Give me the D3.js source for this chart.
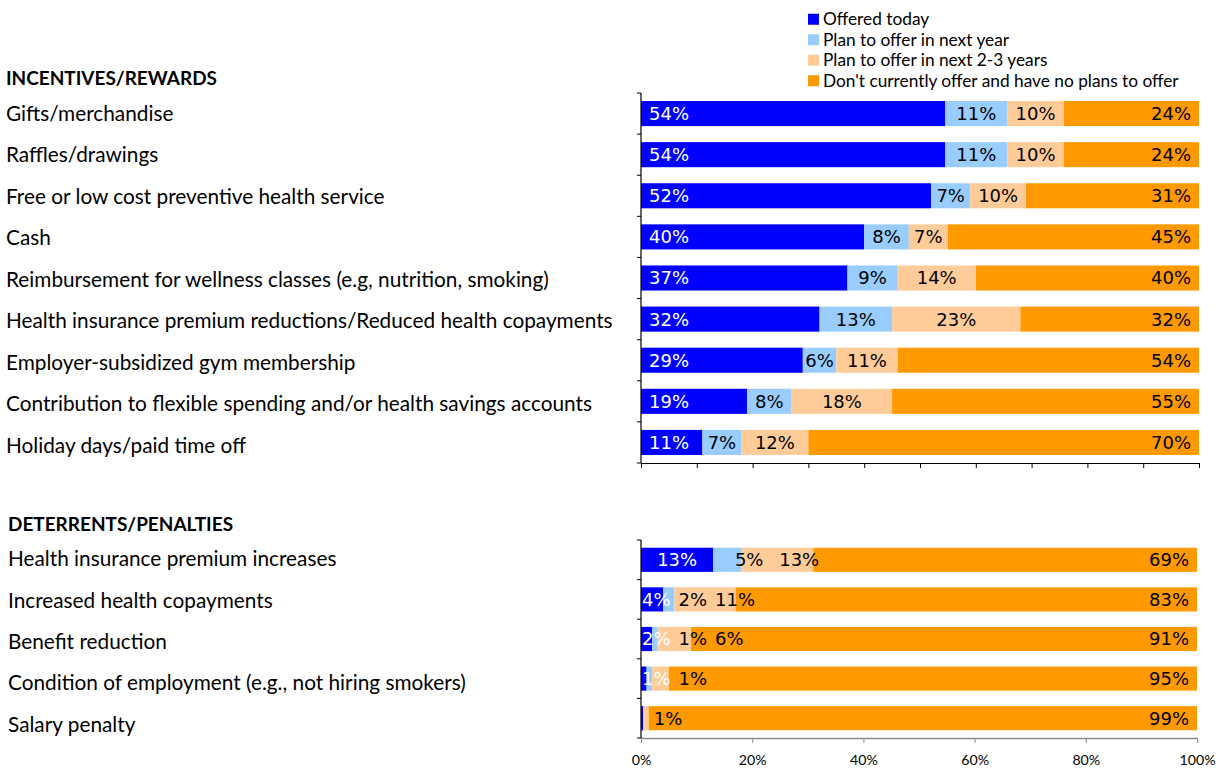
<!DOCTYPE html>
<html>
<head>
<meta charset="utf-8">
<script src="https://cdn.jsdelivr.net/npm/d3@7"></script>
<style>
  body { margin: 0; background: #fff; }
  svg { display: block; }
</style>
</head>
<body>
<svg id="chart" width="1223" height="769"></svg>
<script>
// ---- data -------------------------------------------------------------
const seriesNames = [
  "Offered today",
  "Plan to offer in next year",
  "Plan to offer in next 2-3 years",
  "Don't currently offer and have no plans to offer"
];

const incentiveCategories = [
  "Gifts/merchandise",
  "Raffles/drawings",
  "Free or low cost preventive health service",
  "Cash",
  "Reimbursement for wellness classes (e.g, nutrition, smoking)",
  "Health insurance premium reductions/Reduced health copayments",
  "Employer-subsidized gym membership",
  "Contribution to flexible spending and/or health savings accounts",
  "Holiday days/paid time off"
];
const incentiveOffered   = [54, 54, 52, 40, 37, 32, 29, 19, 11];
const incentiveNextYear  = [11, 11, 7, 8, 9, 13, 6, 8, 7];
const incentiveTwoThree  = [10, 10, 10, 7, 14, 23, 11, 18, 12];
const incentiveNoPlans   = [24, 24, 31, 45, 40, 32, 54, 55, 70];

const deterrentCategories = [
  "Health insurance premium increases",
  "Increased health copayments",
  "Benefit reduction",
  "Condition of employment (e.g., not hiring smokers)",
  "Salary penalty"
];
const deterrentOffered   = [13, 4, 2, 1, 0.4];
const deterrentNextYear  = [5, 2, 1, 1, 0];
const deterrentTwoThree  = [13, 11, 6, 3, 1];
const deterrentNoPlans   = [69, 83, 91, 95, 99];

const gridTicks = [0, 10, 20, 30, 40, 50, 60, 70, 80, 90, 100];
const axisTicks = [0, 20, 40, 60, 80, 100];

// segments printed without a value label: [category, series index]
const unlabeledSegments = [["Condition of employment (e.g., not hiring smokers)", 2]];

// ---- styling ----------------------------------------------------------
const colors = ["#0000FF", "#99CCFF", "#FFCC99", "#FF9900"];
const labelColors = ["#FFFFFF", "#000000", "#000000", "#000000"];
const catFont = "Lato, 'Open Sans', sans-serif";
const valueFont = "'DejaVu Sans', Verdana, sans-serif";

const svg = d3.select("#chart");

// fit a font size so that `text` spans `target` pixels
function fitSize(text, family, weight, target) {
  const probe = svg.append("text")
    .attr("font-family", family).attr("font-weight", weight)
    .attr("font-size", 100).text(text);
  const w = probe.node().getComputedTextLength();
  probe.remove();
  return 100 * target / w;
}

const catSize = fitSize(incentiveCategories[5], catFont, 400, 607);
const headSize = fitSize("INCENTIVES/REWARDS", catFont, 700, 211);
const legendSize = fitSize(seriesNames[3], catFont, 400, 356);
const tickSize = fitSize("100%", catFont, 400, 36);
const valueSize = fitSize("54%", valueFont, 400, 40);

// ---- legend -----------------------------------------------------------
const legendRow = d3.scaleBand().domain(seriesNames).range([9, 91]);
const legend = svg.append("g").attr("class", "legend");
legend.selectAll("rect").data(seriesNames).join("rect")
  .attr("x", 808)
  .attr("y", d => legendRow(d) + legendRow.bandwidth() / 2 - 5.5)
  .attr("width", 11).attr("height", 11)
  .attr("fill", (d, i) => colors[i]);
legend.selectAll("text").data(seriesNames).join("text")
  .attr("x", 823)
  .attr("y", d => legendRow(d) + legendRow.bandwidth() / 2)
  .attr("dy", "0.35em")
  .attr("font-family", catFont).attr("font-size", legendSize)
  .attr("fill", "#000")
  .text(d => d);

// ---- panel ------------------------------------------------------------
function drawPanel(opt) {
  const rows = opt.categories.map((c, i) => {
    const r = { category: c };
    opt.series.forEach((s, k) => { r[k] = s[i]; });
    return r;
  });
  const stack = d3.stack().keys([0, 1, 2, 3]).offset(d3.stackOffsetExpand)(rows);

  const x = d3.scaleLinear().domain([0, 100]).range(opt.xRange);
  const y = d3.scaleBand().domain(opt.categories).range(opt.yRange)
    .paddingInner(0.39).paddingOuter(0.195);
  // the text column runs on its own, slightly looser, row spacing
  const yText = d3.scaleBand().domain(opt.categories).range(opt.textRange);

  const g = svg.append("g");

  // heading + category names
  g.append("text")
    .attr("x", opt.labelX).attr("y", opt.headingY).attr("dy", "0.35em")
    .attr("font-family", catFont).attr("font-weight", 700)
    .attr("font-size", headSize).attr("fill", "#000")
    .text(opt.heading);
  g.selectAll("text.cat").data(opt.categories).join("text")
    .attr("class", "cat")
    .attr("x", opt.labelX)
    .attr("y", d => yText(d) + yText.bandwidth() / 2)
    .attr("dy", "0.35em")
    .attr("font-family", catFont).attr("font-size", catSize)
    .attr("fill", "#000")
    .text(d => d);

  // stacked bars
  g.selectAll("g.layer").data(stack).join("g")
    .attr("class", "layer")
    .attr("fill", (d, k) => colors[k])
    .selectAll("rect").data(d => d).join("rect")
      .attr("x", d => x(d[0] * 100))
      .attr("y", d => y(d.data.category))
      .attr("width", d => x(d[1] * 100) - x(d[0] * 100))
      .attr("height", y.bandwidth());

  // value labels
  const labelLayer = g.append("g");
  rows.forEach((row, i) => {
    let prevEnd = -Infinity;
    const cy = y(row.category) + y.bandwidth() / 2;
    for (let k = 0; k < 4; k++) {
      const v = row[k];
      const shown = Math.round(v);
      if (shown === 0) continue;
      if (unlabeledSegments.some(u => u[0] === row.category && u[1] === k)) continue;
      const seg = stack[k][i];
      const x0 = x(seg[0] * 100), x1 = x(seg[1] * 100);
      const t = labelLayer.append("text")
        .attr("y", cy).attr("dy", "0.36em")
        .attr("font-family", valueFont).attr("font-size", valueSize)
        .attr("fill", labelColors[k])
        .text(shown + "%");
      const w = t.node().getComputedTextLength();
      let left;
      if (k === 3) {
        left = x1 - 8 - w;
      } else if (k === 0 && opt.baseLabels) {
        left = x0 + 8;
      } else {
        left = (x0 + x1) / 2 - w / 2 + (k > 0 ? opt.midShift : 0);
        left = Math.max(left, opt.xRange[0] + 1, prevEnd + opt.labelGap);
      }
      t.attr("x", left);
      prevEnd = left + w;
    }
  });

  // horizontal axis
  const axisY = opt.yRange[1];
  const xAxis = d3.axisBottom(x)
    .tickValues(opt.ticks)
    .tickSize(5)
    .tickSizeOuter(0)
    .tickFormat(opt.tickLabels ? (d => d + "%") : "");
  const ax = g.append("g").attr("transform", `translate(0,${axisY})`).call(xAxis);
  ax.select(".domain").attr("stroke", opt.axisColor).attr("stroke-width", opt.axisWidth);
  ax.selectAll(".tick line").attr("stroke", opt.axisColor);
  ax.selectAll(".tick text")
    .attr("font-family", catFont).attr("font-size", tickSize)
    .attr("fill", "#000").attr("y", 22).attr("dy", "0.35em");

  // vertical axis with ticks on the band boundaries
  const left = opt.xRange[0];
  const step = y.step();
  const boundaries = d3.range(opt.categories.length + 1).map(j => opt.yRange[0] + j * step);
  g.append("line")
    .attr("x1", left).attr("x2", left)
    .attr("y1", opt.yRange[0]).attr("y2", axisY)
    .attr("stroke", "#000").attr("stroke-width", 1.2);
  g.selectAll("line.ytick").data(boundaries).join("line")
    .attr("class", "ytick")
    .attr("x1", left - 4).attr("x2", left)
    .attr("y1", d => d).attr("y2", d => d)
    .attr("stroke", "#000");
}

drawPanel({
  heading: "INCENTIVES/REWARDS",
  headingY: 78,
  labelX: 6,
  categories: incentiveCategories,
  series: [incentiveOffered, incentiveNextYear, incentiveTwoThree, incentiveNoPlans],
  xRange: [641, 1199],
  yRange: [93, 463],
  textRange: [92.5, 466],
  ticks: gridTicks,
  tickLabels: false,
  axisColor: "#000",
  axisWidth: 1.2,
  baseLabels: true,
  midShift: 0,
  labelGap: 2
});

drawPanel({
  heading: "DETERRENTS/PENALTIES",
  headingY: 524,
  labelX: 8,
  categories: deterrentCategories,
  series: [deterrentOffered, deterrentNextYear, deterrentTwoThree, deterrentNoPlans],
  xRange: [641, 1197],
  yRange: [540, 738],
  textRange: [538.5, 745],
  ticks: axisTicks,
  tickLabels: true,
  axisColor: "#8c8c8c",
  axisWidth: 1.5,
  baseLabels: false,
  midShift: 22,
  labelGap: 8
});
</script>
</body>
</html>
